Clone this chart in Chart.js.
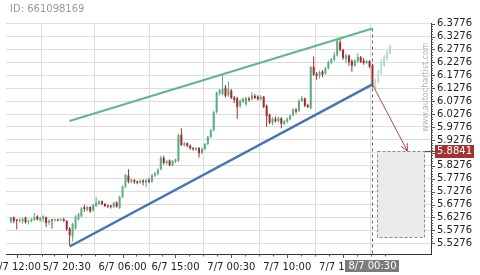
<!DOCTYPE html>
<html>
<head>
<meta charset="utf-8">
<script src="https://cdn.jsdelivr.net/npm/chart.js@4.4.0/dist/chart.umd.min.js"></script>
<style>
  html, body { margin: 0; padding: 0; background: #fff; }
  #wrap { width: 480px; height: 275px; }
</style>
</head>
<body>
<div id="wrap"><canvas id="chart" width="480" height="275"></canvas></div>
<script>
"use strict";

const chartId = "ID: 661098169";
const watermark = "www.autochartist.com";

// 30 minute candles, index 0 = first candle on the left
const opens = [
  5.611, 5.628, 5.620, 5.614, 5.612, 5.627, 5.611, 5.613, 5.618, 5.632,
  5.616, 5.622, 5.628, 5.608, 5.620, 5.616, 5.620, 5.617, 5.620, 5.614,
  5.585, 5.553, 5.585, 5.620, 5.632, 5.667, 5.657, 5.668, 5.655, 5.672,
  5.680, 5.690, 5.680, 5.674, 5.673, 5.669, 5.685, 5.665, 5.708, 5.747,
  5.790, 5.766, 5.772, 5.767, 5.762, 5.770, 5.762, 5.772, 5.766, 5.790,
  5.796, 5.814, 5.858, 5.838, 5.848, 5.830, 5.843, 5.847, 5.947, 5.908,
  5.915, 5.906, 5.896, 5.890, 5.896, 5.876, 5.892, 5.912, 5.938, 5.965,
  6.035, 6.108, 6.105, 6.130, 6.100, 6.118, 6.092, 6.088, 6.060, 6.075,
  6.065, 6.088, 6.085, 6.098, 6.095, 6.085, 6.095, 6.060, 6.025, 5.992,
  6.010, 6.000, 6.012, 5.990, 5.998, 6.008, 6.022, 6.045, 6.040, 6.078,
  6.088, 6.062, 6.050, 6.210, 6.182, 6.178, 6.192, 6.185, 6.204, 6.226,
  6.238, 6.255, 6.305, 6.276, 6.240, 6.254, 6.232, 6.215, 6.232, 6.248,
  6.235, 6.225, 6.232, 6.218
];
const highs = [
  5.629, 5.631, 5.622, 5.624, 5.626, 5.630, 5.620, 5.625, 5.645, 5.636,
  5.630, 5.636, 5.631, 5.620, 5.622, 5.624, 5.623, 5.625, 5.626, 5.618,
  5.590, 5.607, 5.636, 5.645, 5.668, 5.677, 5.672, 5.671, 5.680, 5.708,
  5.695, 5.693, 5.684, 5.678, 5.677, 5.688, 5.690, 5.712, 5.752, 5.796,
  5.814, 5.778, 5.776, 5.771, 5.774, 5.775, 5.776, 5.780, 5.796, 5.803,
  5.818, 5.866, 5.866, 5.850, 5.852, 5.850, 5.856, 5.952, 5.973, 5.920,
  5.918, 5.910, 5.900, 5.900, 5.900, 5.898, 5.916, 5.944, 5.970, 6.040,
  6.115, 6.125, 6.182, 6.140, 6.155, 6.125, 6.098, 6.095, 6.085, 6.092,
  6.095, 6.095, 6.113, 6.105, 6.100, 6.100, 6.098, 6.065, 6.030, 6.015,
  6.018, 6.018, 6.015, 6.005, 6.015, 6.026, 6.050, 6.050, 6.085, 6.098,
  6.092, 6.068, 6.214, 6.250, 6.190, 6.196, 6.198, 6.210, 6.235, 6.245,
  6.269, 6.322, 6.318, 6.280, 6.262, 6.258, 6.240, 6.240, 6.263, 6.252,
  6.245, 6.238, 6.236, 6.222
];
const lows = [
  5.605, 5.605, 5.581, 5.607, 5.603, 5.604, 5.600, 5.608, 5.615, 5.616,
  5.612, 5.610, 5.590, 5.598, 5.585, 5.612, 5.612, 5.614, 5.611, 5.575,
  5.517, 5.535, 5.580, 5.615, 5.628, 5.650, 5.652, 5.645, 5.650, 5.668,
  5.676, 5.675, 5.668, 5.664, 5.662, 5.664, 5.665, 5.660, 5.703, 5.742,
  5.760, 5.760, 5.758, 5.756, 5.758, 5.752, 5.745, 5.760, 5.762, 5.784,
  5.790, 5.810, 5.832, 5.832, 5.826, 5.826, 5.838, 5.842, 5.904, 5.902,
  5.898, 5.890, 5.886, 5.884, 5.860, 5.872, 5.888, 5.908, 5.934, 5.960,
  6.030, 6.100, 6.100, 6.092, 6.095, 6.085, 6.070, 6.010, 6.052, 6.070,
  6.060, 6.075, 6.080, 6.085, 6.080, 6.080, 6.050, 5.979, 5.988, 5.985,
  5.995, 5.995, 5.973, 5.985, 5.992, 6.004, 6.018, 6.030, 6.036, 6.074,
  6.055, 6.050, 6.046, 6.176, 6.160, 6.165, 6.170, 6.180, 6.200, 6.220,
  6.232, 6.250, 6.270, 6.238, 6.225, 6.215, 6.191, 6.210, 6.226, 6.225,
  6.218, 6.220, 6.205, 6.130
];
const closes = [
  5.626, 5.614, 5.615, 5.619, 5.622, 5.609, 5.615, 5.622, 5.628, 5.620,
  5.626, 5.632, 5.606, 5.616, 5.616, 5.619, 5.617, 5.621, 5.614, 5.582,
  5.560, 5.602, 5.631, 5.640, 5.662, 5.660, 5.668, 5.652, 5.676, 5.685,
  5.690, 5.680, 5.672, 5.670, 5.668, 5.684, 5.670, 5.708, 5.747, 5.792,
  5.766, 5.773, 5.765, 5.762, 5.770, 5.764, 5.772, 5.766, 5.790, 5.798,
  5.812, 5.858, 5.838, 5.846, 5.830, 5.845, 5.852, 5.947, 5.908, 5.915,
  5.905, 5.895, 5.892, 5.896, 5.876, 5.893, 5.912, 5.940, 5.965, 6.035,
  6.110, 6.121, 6.125, 6.098, 6.125, 6.090, 6.082, 6.055, 6.080, 6.088,
  6.090, 6.082, 6.100, 6.090, 6.085, 6.095, 6.055, 6.020, 5.995, 6.010,
  6.000, 6.012, 5.990, 6.000, 6.010, 6.022, 6.045, 6.038, 6.080, 6.090,
  6.060, 6.055, 6.210, 6.180, 6.175, 6.190, 6.180, 6.205, 6.228, 6.240,
  6.255, 6.312, 6.276, 6.245, 6.255, 6.228, 6.215, 6.235, 6.248, 6.230,
  6.225, 6.232, 6.212, 6.135
];

// faded projection candles after the last real candle
const ghostStart = 124;
const ghostOpens = [6.128, 6.150, 6.185, 6.215, 6.240, 6.262];
const ghostHighs = [6.165, 6.200, 6.240, 6.258, 6.280, 6.296];
const ghostLows = [6.120, 6.145, 6.180, 6.210, 6.235, 6.258];
const ghostCloses = [6.160, 6.195, 6.230, 6.250, 6.270, 6.290];

// x axis labels (candle index -> text)
const tickIndexes = [2, 19, 38, 56, 75, 94, 113];
const tickLabels = ["4/7 12:00", "5/7 20:30", "6/7 06:00", "6/7 15:00", "7/7 00:30", "7/7 10:00", "7/7 19:30"];
const lastIndex = 123;
const lastLabel = "8/7 00:30";

const yTicks = [
  5.5276, 5.5776, 5.6276, 5.6776, 5.7276, 5.7776, 5.8276, 5.8776, 5.9276,
  5.9776, 6.0276, 6.0776, 6.1276, 6.1776, 6.2276, 6.2776, 6.3276, 6.3776
];
const yTickLabels = [
  "5.5276", "5.5776", "5.6276", "5.6776", "5.7276", "5.7776", "5.8276", "5.8776", "5.9276",
  "5.9776", "6.0276", "6.0776", "6.1276", "6.1776", "6.2276", "6.2776", "6.3276", "6.3776"
];

// rising wedge
const wedgeX = [20, 123];
const resistanceY = [6.0008, 6.3587];
const supportY = [5.5153, 6.1422];

// breakout forecast
const arrowX = [123, 134.9];
const arrowY = [6.1422, 5.8841];
const targetLevel = 5.8841;
const targetLabel = "5.8841";
const targetLow = 5.5509;
const targetSpan = [124.5, 140.5];

const UP = "#5aad7f";
const DOWN = "#a12b2e";
const GHOST = "#a9d9bd";
const FONT = "'DejaVu Sans', sans-serif";

const candleColors = opens.map((o, i) => (closes[i] >= o ? UP : DOWN));

const overlayPlugin = {
  id: "overlay",
  beforeDatasetsDraw(chart) {
    const { ctx, chartArea: area, scales: { x, y } } = chart;
    const bx0 = Math.round(x.getPixelForValue(targetSpan[0])) + 0.5;
    const bx1 = Math.round(x.getPixelForValue(targetSpan[1])) + 0.5;
    const by0 = Math.round(y.getPixelForValue(targetLevel)) + 0.5;
    const by1 = Math.round(y.getPixelForValue(targetLow)) + 0.5;
    ctx.save();
    ctx.fillStyle = "#ebebeb";
    ctx.fillRect(bx0, by0, bx1 - bx0, by1 - by0);
    ctx.lineWidth = 1;
    ctx.setLineDash([3, 2]);
    ctx.strokeStyle = "#8a8a8a";
    ctx.strokeRect(bx0, by0, bx1 - bx0, by1 - by0);

    const lx = Math.round(x.getPixelForValue(lastIndex)) + 0.5;
    ctx.strokeStyle = "#666";
    ctx.setLineDash([3, 3]);
    ctx.beginPath();
    ctx.moveTo(lx, y.getPixelForValue(resistanceY[1]));
    ctx.lineTo(lx, area.bottom);
    ctx.stroke();
    ctx.restore();
  },
  afterDatasetsDraw(chart) {
    const { ctx, chartArea: area, scales: { x, y } } = chart;
    const sx = x.getPixelForValue(arrowX[0]);
    const sy = y.getPixelForValue(arrowY[0]);
    const tx = x.getPixelForValue(arrowX[1]);
    const ty = y.getPixelForValue(arrowY[1]);
    const ang = Math.atan2(ty - sy, tx - sx);
    ctx.save();
    ctx.strokeStyle = "#b34848";
    ctx.lineWidth = 1;
    ctx.beginPath();
    ctx.moveTo(tx - 8 * Math.cos(ang - 0.45), ty - 8 * Math.sin(ang - 0.45));
    ctx.lineTo(tx, ty);
    ctx.lineTo(tx - 8 * Math.cos(ang + 0.45), ty - 8 * Math.sin(ang + 0.45));
    ctx.stroke();

    const by = Math.round(y.getPixelForValue(targetLevel)) + 0.5;
    ctx.strokeStyle = "#a33232";
    ctx.beginPath();
    ctx.moveTo(Math.round(x.getPixelForValue(targetSpan[1])) + 0.5, by);
    ctx.lineTo(area.right + 5, by);
    ctx.stroke();
    ctx.restore();
  },
  afterDraw(chart) {
    const { ctx, chartArea: area, scales: { x, y } } = chart;
    ctx.save();
    ctx.strokeStyle = "#555";
    ctx.lineWidth = 1;

    // x tick marks (major + 3 minor between)
    ctx.beginPath();
    tickIndexes.forEach((v, k) => {
      const px = Math.round(x.getPixelForValue(v)) + 0.5;
      ctx.moveTo(px, area.bottom);
      ctx.lineTo(px, area.bottom + 4);
      const next = k < tickIndexes.length - 1 ? tickIndexes[k + 1] : v + (v - tickIndexes[k - 1]);
      for (let m = 1; m < 4; m += 1) {
        const mv = v + ((next - v) * m) / 4;
        if (mv > x.max) break;
        const mx = Math.round(x.getPixelForValue(mv)) + 0.5;
        ctx.moveTo(mx, area.bottom);
        ctx.lineTo(mx, area.bottom + 2.5);
      }
    });
    // y tick marks
    yTicks.forEach((v, k) => {
      const py = Math.round(y.getPixelForValue(v)) + 0.5;
      ctx.moveTo(area.right, py);
      ctx.lineTo(area.right + 4, py);
      for (let m = 1; m < 5; m += 1) {
        const mv = v + m * 0.01;
        if (mv > y.max) break;
        const my = Math.round(y.getPixelForValue(mv)) + 0.5;
        ctx.moveTo(area.right, my);
        ctx.lineTo(area.right + 2, my);
      }
    });
    ctx.stroke();

    // x labels
    ctx.font = "10px " + FONT;
    ctx.textAlign = "center";
    ctx.textBaseline = "middle";
    ctx.fillStyle = "#222";
    tickIndexes.forEach((v, k) => {
      ctx.fillText(tickLabels[k], x.getPixelForValue(v), 267);
    });
    const lx = x.getPixelForValue(lastIndex);
    const lw = ctx.measureText(lastLabel).width + 6;
    ctx.fillStyle = "#7b7b7b";
    ctx.fillRect(Math.round(lx - lw / 2), 260, Math.round(lw), 12);
    ctx.fillStyle = "#fff";
    ctx.fillText(lastLabel, lx, 266.5);

    // target label on the price axis
    const ty = y.getPixelForValue(targetLevel);
    ctx.textAlign = "left";
    const tw = ctx.measureText(targetLabel).width + 4;
    ctx.fillStyle = "#a33232";
    ctx.fillRect(area.right + 4, Math.round(ty) - 6, Math.round(tw), 13);
    ctx.fillStyle = "#fff";
    ctx.fillText(targetLabel, area.right + 6, ty + 0.5);

    // id
    ctx.fillStyle = "#999";
    ctx.fillText(chartId, 10, 9.5);

    // watermark
    ctx.translate(area.right - 5.5, 87);
    ctx.rotate(-Math.PI / 2);
    ctx.textAlign = "center";
    ctx.font = "8px " + FONT;
    ctx.fillStyle = "#b5b5b5";
    ctx.fillText(watermark, 0, 0);
    ctx.restore();
  }
};

const barBase = { type: "bar", grouped: false, borderWidth: 0, borderSkipped: false };

new Chart(document.getElementById("chart"), {
  type: "bar",
  data: {
    datasets: [
      {
        ...barBase,
        label: "wicks",
        data: opens.map((o, i) => ({ x: i, y: [lows[i], highs[i]] })),
        backgroundColor: candleColors,
        maxBarThickness: 1,
        order: 3
      },
      {
        ...barBase,
        label: "bodies",
        data: opens.map((o, i) => ({ x: i, y: [o, closes[i]] })),
        backgroundColor: candleColors,
        maxBarThickness: 2,
        minBarLength: 1,
        order: 2
      },
      {
        ...barBase,
        label: "ghost wicks",
        data: ghostOpens.map((o, k) => ({ x: ghostStart + k, y: [ghostLows[k], ghostHighs[k]] })),
        backgroundColor: GHOST,
        maxBarThickness: 1,
        order: 3
      },
      {
        ...barBase,
        label: "ghost bodies",
        data: ghostOpens.map((o, k) => ({ x: ghostStart + k, y: [o, ghostCloses[k]] })),
        backgroundColor: "#fff",
        borderColor: GHOST,
        borderWidth: 1,
        maxBarThickness: 3,
        order: 2
      },
      {
        type: "line",
        label: "resistance",
        data: wedgeX.map((v, k) => ({ x: v, y: resistanceY[k] })),
        borderColor: "#63b58b",
        borderWidth: 2,
        pointRadius: 0,
        order: 0
      },
      {
        type: "line",
        label: "support",
        data: wedgeX.map((v, k) => ({ x: v, y: supportY[k] })),
        borderColor: "#4474b9",
        borderWidth: 2.5,
        pointRadius: 0,
        order: 0
      },
      {
        type: "line",
        label: "forecast",
        data: arrowX.map((v, k) => ({ x: v, y: arrowY[k] })),
        borderColor: "#b34848",
        borderWidth: 1,
        pointRadius: 0,
        order: 0
      }
    ]
  },
  options: {
    responsive: false,
    animation: false,
    events: [],
    layout: { padding: { left: 6, top: 23, right: 0, bottom: 0 } },
    plugins: {
      legend: { display: false },
      tooltip: { enabled: false }
    },
    scales: {
      x: {
        type: "linear",
        min: -1.646,
        max: 142.91,
        offset: false,
        afterBuildTicks: (scale) => {
          scale.ticks = tickIndexes.map((v) => ({ value: v }));
        },
        afterFit: (scale) => {
          scale.height = 21;
        },
        grid: { color: "#dedede", drawTicks: false },
        border: { color: "#333" },
        ticks: { display: false }
      },
      y: {
        position: "right",
        min: 5.4862,
        max: 6.38,
        afterBuildTicks: (scale) => {
          scale.ticks = yTicks.map((v) => ({ value: v }));
        },
        afterFit: (scale) => {
          scale.width = 49;
        },
        grid: { color: "#dedede", drawTicks: false },
        border: { color: "#333" },
        ticks: {
          autoSkip: false,
          padding: 6,
          color: "#222",
          font: { family: FONT, size: 10 },
          callback: (value, index) => yTickLabels[index]
        }
      }
    }
  },
  plugins: [overlayPlugin]
});
</script>
</body>
</html>
